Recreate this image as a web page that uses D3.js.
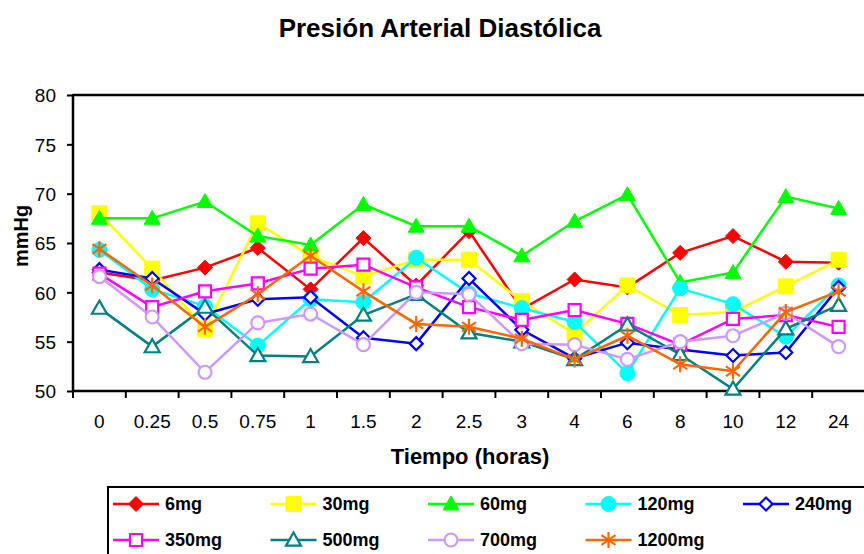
<!DOCTYPE html>
<html>
<head>
<meta charset="utf-8">
<script src="https://cdn.jsdelivr.net/npm/d3@7"></script>
<style>
  body { margin: 0; background: #fff; }
  svg { display: block; font-family: "Liberation Sans", Arial, sans-serif; }
</style>
</head>
<body>
<svg id="chart" width="864" height="554"></svg>
<script>
// categories on the x axis (hours)
var horas = ["0", "0.25", "0.5", "0.75", "1", "1.5", "2", "2.5", "3", "4", "6", "8", "10", "12", "24"];
var yTicks = [50, 55, 60, 65, 70, 75, 80];

// series values (mmHg)
var mg6    = [62.0, 61.2, 62.5, 64.5, 60.3, 65.5, 60.7, 66.2, 58.3, 61.3, 60.5, 64.0, 65.7, 63.1, 63.0];
var mg30   = [68.0, 62.4, 56.3, 67.0, 63.7, 61.6, 63.3, 63.3, 59.1, 55.8, 60.7, 57.7, 58.0, 60.6, 63.3];
var mg60   = [67.5, 67.5, 69.2, 65.7, 64.8, 68.9, 66.7, 66.7, 63.7, 67.2, 69.9, 61.0, 62.0, 69.7, 68.5];
var mg120  = [64.3, 60.3, 58.6, 54.6, 59.3, 59.0, 63.5, 59.9, 58.4, 57.0, 51.8, 60.4, 58.8, 55.5, 60.7];
var mg240  = [62.3, 61.4, 57.8, 59.3, 59.5, 55.4, 54.8, 61.4, 56.2, 53.3, 54.9, 54.2, 53.6, 53.9, 60.5];
var mg350  = [61.9, 58.5, 60.1, 60.9, 62.4, 62.8, 60.5, 58.5, 57.2, 58.2, 56.8, 54.7, 57.3, 57.7, 56.5];
var mg500  = [58.4, 54.5, 58.5, 53.6, 53.5, 57.7, 59.8, 55.9, 55.0, 53.2, 56.7, 53.7, 50.2, 56.3, 58.7];
var mg700  = [61.6, 57.5, 51.9, 56.9, 57.8, 54.7, 60.0, 59.8, 54.8, 54.7, 53.2, 55.0, 55.6, 57.9, 54.5];
var mg1200 = [64.4, 60.7, 56.5, 59.8, 63.7, 60.1, 56.8, 56.5, 55.3, 53.2, 55.6, 52.7, 52.0, 58.0, 60.1];

var names = ["6mg", "30mg", "60mg", "120mg", "240mg", "350mg", "500mg", "700mg", "1200mg"];
var valores = [mg6, mg30, mg60, mg120, mg240, mg350, mg500, mg700, mg1200];

// marker shapes, size = half width in px
var diamond = { draw: function(c, r) { c.moveTo(0, -r); c.lineTo(r, 0); c.lineTo(0, r); c.lineTo(-r, 0); c.closePath(); } };
var square = { draw: function(c, r) { c.rect(-r, -r, 2 * r, 2 * r); } };
var triangle = { draw: function(c, r) { c.moveTo(0, -r); c.lineTo(r, r * 0.75); c.lineTo(-r, r * 0.75); c.closePath(); } };
var circle = { draw: function(c, r) { c.moveTo(r, 0); c.arc(0, 0, r, 0, 2 * Math.PI); } };
var asterisk = { draw: function(c, r) {
  c.moveTo(0, -r); c.lineTo(0, r);
  c.moveTo(-r * 0.87, -r * 0.6); c.lineTo(r * 0.87, r * 0.6);
  c.moveTo(-r * 0.87, r * 0.6); c.lineTo(r * 0.87, -r * 0.6);
} };

var estilos = [
  { color: "#FF0000", shape: diamond, r: 7.5, fill: true },
  { color: "#FFFF00", shape: square, r: 7.5, fill: true },
  { color: "#00FF00", shape: triangle, r: 8, fill: true },
  { color: "#00FFFF", shape: circle, r: 7.5, fill: true },
  { color: "#0000FF", shape: diamond, r: 6.5, fill: false },
  { color: "#FF00FF", shape: square, r: 6, fill: false },
  { color: "#008080", shape: triangle, r: 7.5, fill: false },
  { color: "#CC99FF", shape: circle, r: 6.5, fill: false },
  { color: "#FF6600", shape: asterisk, r: 8, fill: false, star: true }
];

var svg = d3.select("#chart");
var plotLeft = 73, plotTop = 95, plotBottom = 391;
var bw = 52.8;

var x = d3.scaleBand().domain(horas).range([plotLeft, plotLeft + bw * horas.length]).padding(0);
var y = d3.scaleLinear().domain([50, 80]).range([plotBottom, plotTop]);

function cx(h) { return x(h) + x.bandwidth() / 2; }

// title
svg.append("text")
  .attr("x", 440).attr("y", 37)
  .attr("text-anchor", "middle")
  .style("font-size", "26px").style("font-weight", "bold")
  .text("Presión Arterial Diastólica");

// plot frame top line
svg.append("line")
  .attr("x1", plotLeft).attr("x2", 864)
  .attr("y1", plotTop).attr("y2", plotTop)
  .attr("stroke", "#000").attr("stroke-width", 2.5);

// y axis
var yAxis = d3.axisLeft(y).tickValues(yTicks).tickSize(6).tickPadding(11);
var gy = svg.append("g").attr("transform", "translate(" + plotLeft + ",0)").call(yAxis);
gy.select(".domain").attr("stroke-width", 2.5).attr("d", "M0," + (plotTop - 1) + "V" + (plotBottom + 1));
gy.selectAll(".tick line").attr("stroke-width", 2);
gy.selectAll("text").style("font-size", "19px").attr("fill", "#000").attr("dy", "0.36em");

// x axis: labels centred in bands, ticks on band edges
var xAxis = d3.axisBottom(x).tickSize(0).tickPadding(24);
var gx = svg.append("g").attr("transform", "translate(0," + plotBottom + ")").call(xAxis);
gx.select(".domain").attr("stroke-width", 2.5).attr("d", "M" + (plotLeft - 1) + ",0H864");
gx.selectAll("text").style("font-size", "19px").attr("fill", "#000");
gx.selectAll(".edge").data(horas).enter().append("line")
  .attr("x1", function(d) { return x(d); }).attr("x2", function(d) { return x(d); })
  .attr("y1", 0).attr("y2", 7)
  .attr("stroke", "#000").attr("stroke-width", 2);

// axis titles
svg.append("text")
  .attr("transform", "translate(28,236) rotate(-90)")
  .attr("text-anchor", "middle")
  .style("font-size", "20px").style("font-weight", "bold")
  .text("mmHg");
svg.append("text")
  .attr("x", 470).attr("y", 464)
  .attr("text-anchor", "middle")
  .style("font-size", "22px").style("font-weight", "bold")
  .text("Tiempo (horas)");

function marker(sel, st) {
  sel.attr("d", d3.symbol().type(st.shape).size(st.r))
    .attr("fill", st.fill ? st.color : (st.star ? "none" : "#fff"))
    .attr("stroke", st.color)
    .attr("stroke-width", st.fill ? 1 : 2.2);
}

var line = d3.line()
  .x(function(d, i) { return cx(horas[i]); })
  .y(function(d) { return y(d); });

valores.forEach(function(vals, k) {
  var st = estilos[k];
  var g = svg.append("g");
  g.append("path")
    .attr("d", line(vals))
    .attr("fill", "none")
    .attr("stroke", st.color)
    .attr("stroke-width", 2.5);
  g.selectAll("path.m").data(vals).enter().append("path")
    .attr("class", "m")
    .attr("transform", function(d, i) { return "translate(" + cx(horas[i]) + "," + y(d) + ")"; })
    .call(marker, st);
});

// legend
var lg = svg.append("g");
lg.append("rect")
  .attr("x", 108).attr("y", 487).attr("width", 770).attr("height", 80)
  .attr("fill", "#fff").attr("stroke", "#000").attr("stroke-width", 2);

names.forEach(function(n, k) {
  var st = estilos[k];
  var col = k % 5, row = Math.floor(k / 5);
  var lx = 113 + col * 157.5, ly = 504 + row * 36;
  var it = lg.append("g").attr("transform", "translate(" + lx + "," + ly + ")");
  it.append("line").attr("x1", 0).attr("x2", 46).attr("y1", 0).attr("y2", 0)
    .attr("stroke", st.color).attr("stroke-width", 2.5);
  it.append("path").attr("transform", "translate(23,0)").call(marker, st);
  it.append("text").attr("x", 52).attr("y", 0).attr("dy", "0.36em")
    .style("font-size", "18px").style("font-weight", "bold")
    .text(n);
});
</script>
</body>
</html>
